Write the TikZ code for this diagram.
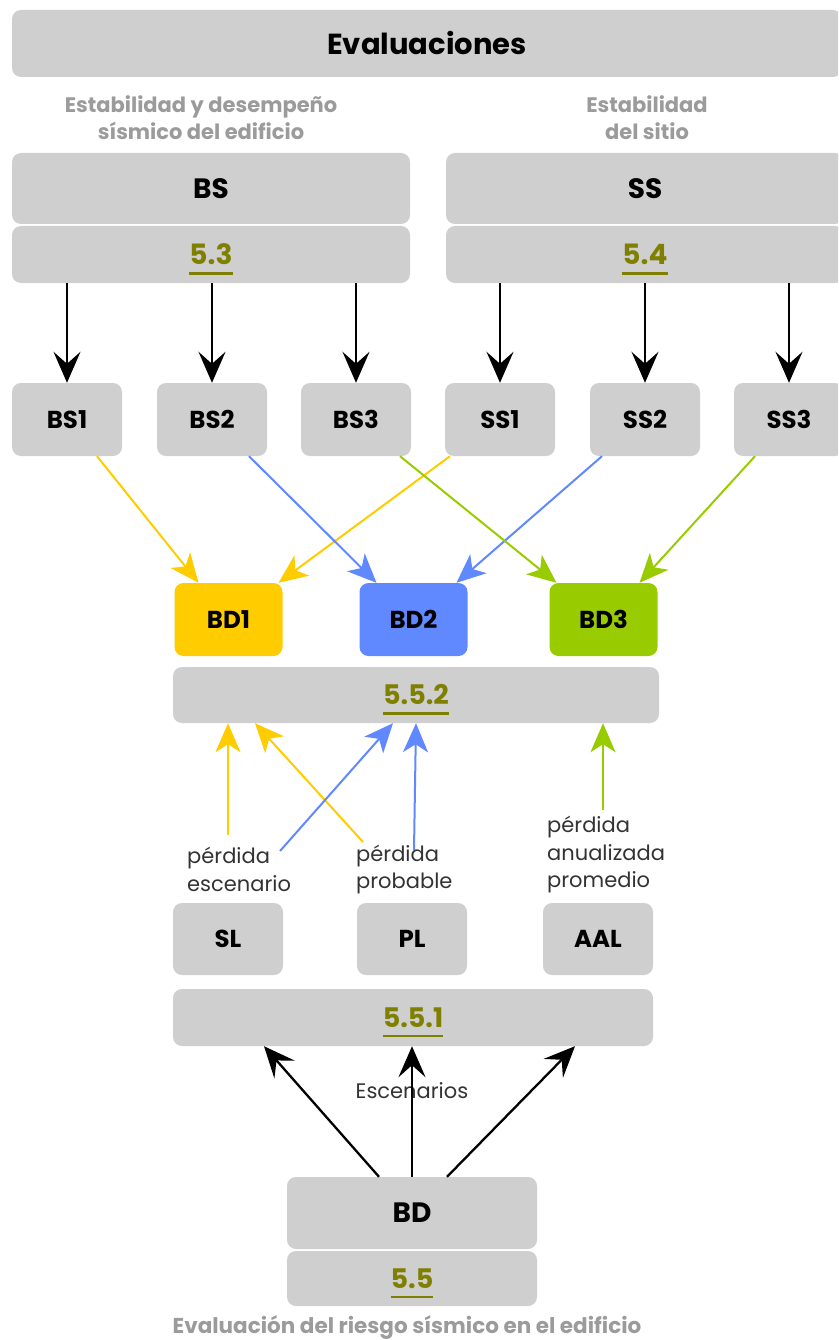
\documentclass[tikz,border=0pt]{standalone}
\usepackage{fontspec}
\setmainfont{Poppins}
\usetikzlibrary{arrows.meta,calc}
\definecolor{boxgray}{RGB}{207,207,207}
\definecolor{labelgray}{RGB}{155,155,155}
\definecolor{olivec}{RGB}{128,128,0}
\definecolor{yellowc}{RGB}{255,204,0}
\definecolor{bluec}{RGB}{96,136,255}
\definecolor{greenc}{RGB}{153,204,0}
\definecolor{textdark}{RGB}{51,51,51}
\newcommand\secnum[1]{{\color{olivec}\setbox0\hbox{#1}\rlap{\smash{\rule[-10pt]{\wd0}{2.5pt}}}\box0}}
\begin{document}
\begin{tikzpicture}[x=1pt,y=-1pt,
  box/.style={fill=boxgray, rounded corners=9pt, inner sep=0pt, text=black},
  bigbox/.style={box, minimum width=398pt, font=\bfseries\fontsize{28}{32}\selectfont},
  smallbox/.style={box, minimum width=110pt, minimum height=73pt, font=\bfseries\fontsize{24.5}{28}\selectfont},
  glabel/.style={align=center, text=labelgray, inner sep=0pt, font=\bfseries\fontsize{21}{27}\selectfont},
  plabel/.style={align=left, text=textdark, inner sep=0pt, anchor=west, font=\fontsize{21}{27.5}\selectfont},
  karr/.style={-{Stealth[length=31pt,width=27pt,inset=12pt]}, line width=2.3pt, black},
  carr/.style={-{Stealth[length=29pt,width=25pt,inset=8pt]}, line width=2pt}]
\useasboundingbox (0,0) rectangle (838,1340);
\clip (0,0) rectangle (838,1340);
% top
\node[box, minimum width=830pt, minimum height=67pt, font=\bfseries\fontsize{29}{34}\selectfont] (eval) at (427,43.5) {Evaluaciones};
\node[glabel] (lblBS) at (201,117.5) {Estabilidad y desempeño\\sísmico del edificio};
\node[glabel] (lblSS) at (647,117.5) {Estabilidad\\del sitio};
% BS / SS
\node[bigbox, minimum height=71pt] (BS) at (211,188.5) {BS};
\node[bigbox, minimum height=57pt] (BSn) at (211,254.5) {\secnum{5.3}};
\node[bigbox, minimum height=71pt] (SS) at (645,188.5) {SS};
\node[bigbox, minimum height=57pt] (SSn) at (645,254.5) {\secnum{5.4}};
% row
\node[smallbox] (BS1) at (67,419.5) {BS1};
\node[smallbox] (BS2) at (212,419.5) {BS2};
\node[smallbox] (BS3) at (356,419.5) {BS3};
\node[smallbox] (SS1) at (500,419.5) {SS1};
\node[smallbox] (SS2) at (645,419.5) {SS2};
\node[smallbox] (SS3) at (789,419.5) {SS3};
\foreach \n in {BS1,BS2,BS3}{\draw[karr] (BSn.south -| \n.north) -- (\n.north);}
\foreach \n in {SS1,SS2,SS3}{\draw[karr] (SSn.south -| \n.north) -- (\n.north);}
% BD boxes
\node[smallbox, minimum width=108pt, fill=yellowc] (BD1) at (228.5,619.5) {BD1};
\node[smallbox, minimum width=108pt, fill=bluec] (BD2) at (413.5,619.5) {BD2};
\node[smallbox, minimum width=108pt, fill=greenc] (BD3) at (603.5,619.5) {BD3};
\draw[carr, yellowc] ($(BS1.south)+(30,0)$) -- ($(BD1.north)+(-30,0)$);
\draw[carr, yellowc] ($(SS1.south)+(-50,0)$) -- ($(BD1.north)+(50,0)$);
\draw[carr, bluec] ($(BS2.south)+(37,0)$) -- ($(BD2.north)+(-37,0)$);
\draw[carr, bluec] ($(SS2.south)+(-43,0)$) -- ($(BD2.north)+(43,0)$);
\draw[carr, greenc] ($(BS3.south)+(44,0)$) -- ($(BD3.north)+(-47,0)$);
\draw[carr, greenc] ($(SS3.south)+(-34,0)$) -- ($(BD3.north)+(36,0)$);
% 5.5.2
\node[box, minimum width=486pt, minimum height=56pt, font=\bfseries\fontsize{27}{31}\selectfont] (n552) at (416,695) {\secnum{5.5.2}};
\node[plabel] (lSL) at (187,869.5) {pérdida\\escenario};
\node[plabel] (lPL) at (356,869.5) {pérdida\\probable};
\node[plabel] (lAAL) at (547,855) {pérdida\\anualizada\\promedio};
\coordinate (ya) at (228,835);
\coordinate (yb) at (363,842);
\coordinate (ba) at (280,851);
\coordinate (bb) at (414,850);
\coordinate (ga) at (603,810);
\draw[carr, yellowc] (ya) -- (n552.south -| ya);
\draw[carr, yellowc] (yb) -- ($(n552.south)+(-161,0)$);
\draw[carr, bluec] (ba) -- ($(n552.south)+(-23,0)$);
\draw[carr, bluec] (bb) -- (n552.south);
\draw[carr, greenc] (ga) -- (n552.south -| ga);
% SL PL AAL
\node[smallbox, minimum height=72pt] (SL) at (228,939) {SL};
\node[smallbox, minimum height=72pt] (PL) at (412,939) {PL};
\node[smallbox, minimum height=72pt] (AAL) at (598,939) {AAL};
% 5.5.1
\node[box, minimum width=480pt, minimum height=57pt, font=\bfseries\fontsize{27}{31}\selectfont] (n551) at (413,1017.5) {\secnum{5.5.1}};
% BD
\node[box, minimum width=250pt, minimum height=72pt, font=\bfseries\fontsize{28}{32}\selectfont] (BD) at (412,1213) {BD};
\node[box, minimum width=250pt, minimum height=55pt, font=\bfseries\fontsize{27}{31}\selectfont] (BDn) at (412,1278.5) {\secnum{5.5}};
\node[text=textdark, inner sep=0pt, font=\fontsize{21}{25}\selectfont] (esc) at (412,1091) {Escenarios};
\draw[karr] ($(BD.north)+(-33,0)$) -- ($(n551.south)+(-149,0)$);
\draw[karr] (BD.north) -- ($(n551.south)+(-1,0)$);
\draw[karr] ($(BD.north)+(35,0)$) -- ($(n551.south)+(162,0)$);
\node[glabel, font=\bfseries\fontsize{21.5}{27}\selectfont] (lblBD) at (407,1327) {Evaluación del riesgo sísmico en el edificio};
\end{tikzpicture}
\end{document}
